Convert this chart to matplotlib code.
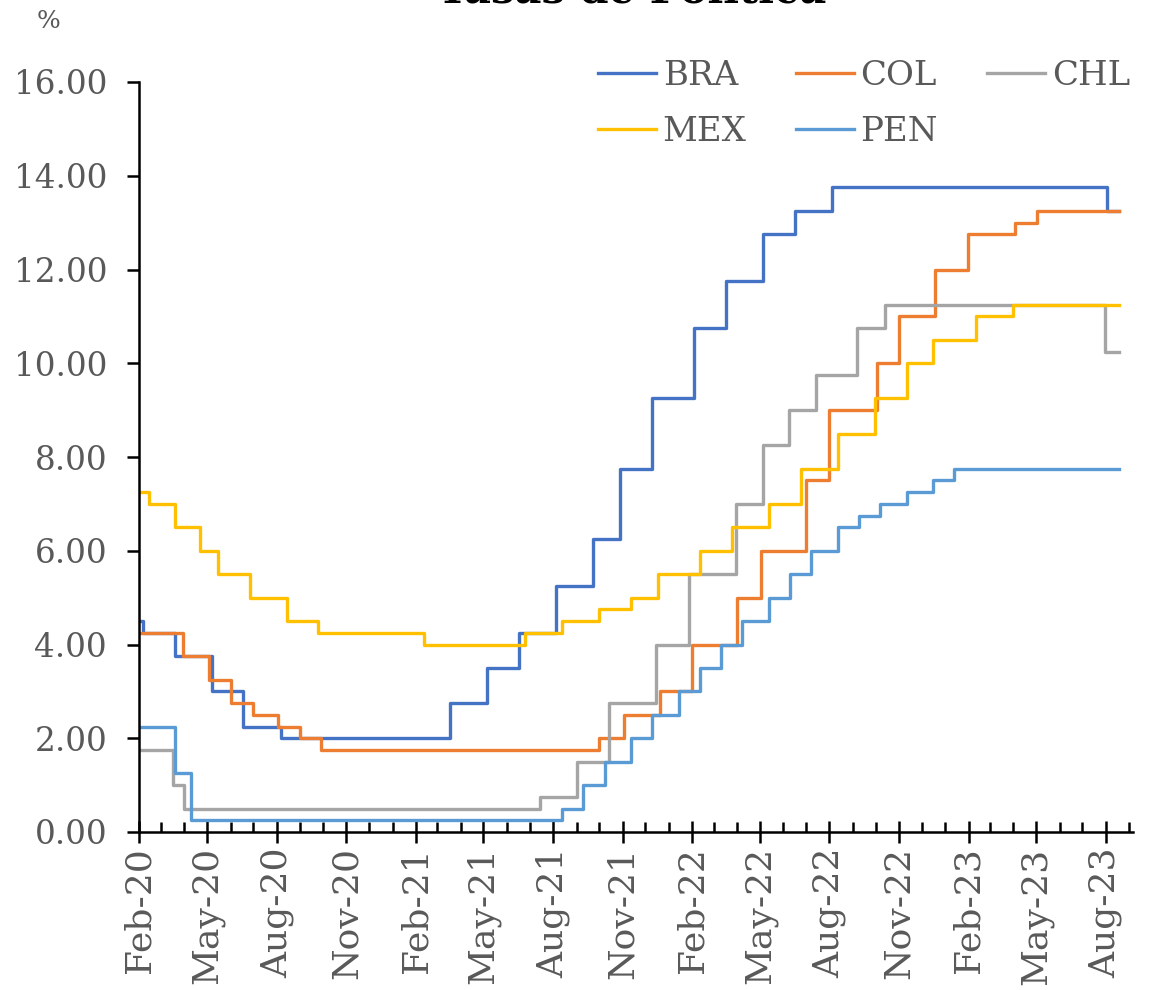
import pandas as pd
import matplotlib
matplotlib.use("Agg")
import matplotlib.pyplot as plt
import matplotlib.dates as mdates

# Tasas de política monetaria (%), fechas de cambio
bra_fechas = ["2020-02-03", "2020-02-06", "2020-03-19", "2020-05-07", "2020-06-18",
              "2020-08-06", "2021-03-18", "2021-05-06", "2021-06-17", "2021-08-05",
              "2021-09-23", "2021-10-28", "2021-12-09", "2022-02-03", "2022-03-17",
              "2022-05-05", "2022-06-16", "2022-08-04", "2023-08-03", "2023-08-18"]
bra_tasas = [4.50, 4.25, 3.75, 3.00, 2.25, 2.00, 2.75, 3.50, 4.25, 5.25, 6.25, 7.75,
             9.25, 10.75, 11.75, 12.75, 13.25, 13.75, 13.25, 13.25]

col_fechas = ["2020-02-03", "2020-03-30", "2020-05-04", "2020-06-01", "2020-06-30",
              "2020-08-03", "2020-09-01", "2020-09-29", "2021-10-01", "2021-11-02",
              "2021-12-20", "2022-02-01", "2022-04-01", "2022-05-02", "2022-07-01",
              "2022-08-01", "2022-10-03", "2022-11-01", "2022-12-19", "2023-01-31",
              "2023-04-03", "2023-05-02", "2023-08-18"]
col_tasas = [4.25, 3.75, 3.25, 2.75, 2.50, 2.25, 2.00, 1.75, 2.00, 2.50, 3.00, 4.00,
             5.00, 6.00, 7.50, 9.00, 10.00, 11.00, 12.00, 12.75, 13.00, 13.25, 13.25]

chl_fechas = ["2020-02-03", "2020-03-17", "2020-04-01", "2021-07-15", "2021-09-01",
              "2021-10-14", "2021-12-15", "2022-01-27", "2022-03-30", "2022-05-05",
              "2022-06-08", "2022-07-14", "2022-09-07", "2022-10-13", "2023-07-31",
              "2023-08-18"]
chl_tasas = [1.75, 1.00, 0.50, 0.75, 1.50, 2.75, 4.00, 5.50, 7.00, 8.25, 9.00, 9.75,
             10.75, 11.25, 10.25, 10.25]

mex_fechas = ["2020-02-03", "2020-02-14", "2020-03-20", "2020-04-21", "2020-05-15",
              "2020-06-26", "2020-08-14", "2020-09-25", "2021-02-12", "2021-06-25",
              "2021-08-13", "2021-10-01", "2021-11-12", "2021-12-17", "2022-02-11",
              "2022-03-25", "2022-05-13", "2022-06-24", "2022-08-12", "2022-09-30",
              "2022-11-11", "2022-12-16", "2023-02-10", "2023-03-31", "2023-08-18"]
mex_tasas = [7.25, 7.00, 6.50, 6.00, 5.50, 5.00, 4.50, 4.25, 4.00, 4.25, 4.50, 4.75,
             5.00, 5.50, 6.00, 6.50, 7.00, 7.75, 8.50, 9.25, 10.00, 10.50, 11.00,
             11.25, 11.25]

pen_fechas = ["2020-02-03", "2020-03-20", "2020-04-10", "2021-08-13", "2021-09-10",
              "2021-10-08", "2021-11-12", "2021-12-10", "2022-01-14", "2022-02-11",
              "2022-03-11", "2022-04-08", "2022-05-13", "2022-06-10", "2022-07-08",
              "2022-08-12", "2022-09-09", "2022-10-07", "2022-11-11", "2022-12-16",
              "2023-01-13", "2023-08-18"]
pen_tasas = [2.25, 1.25, 0.25, 0.50, 1.00, 1.50, 2.00, 2.50, 3.00, 3.50, 4.00, 4.50,
             5.00, 5.50, 6.00, 6.50, 6.75, 7.00, 7.25, 7.50, 7.75, 7.75]

series = [
    ("BRA", bra_fechas, bra_tasas, "#4472C4"),
    ("COL", col_fechas, col_tasas, "#ED7D31"),
    ("CHL", chl_fechas, chl_tasas, "#A5A5A5"),
    ("MEX", mex_fechas, mex_tasas, "#FFC000"),
    ("PEN", pen_fechas, pen_tasas, "#5B9BD5"),
]

gris = "#595959"
plt.rcParams["font.family"] = ["DejaVu Serif"]

fig = plt.figure(figsize=(11.58, 9.9), dpi=100)
ax = fig.add_axes([139 / 1158, 1 - 832 / 990, (1133 - 139) / 1158, 750 / 990])

lineas = {}
for nombre, fechas, tasas, color in series:
    l, = ax.step(pd.to_datetime(fechas), tasas, where="post", color=color,
                 lw=2.4, label=nombre)
    lineas[nombre] = l

ax.set_ylim(0, 16)
ax.set_yticks(range(0, 17, 2))
ax.yaxis.set_major_formatter(matplotlib.ticker.FormatStrFormatter("%.2f"))
ax.set_xlim(pd.Timestamp("2020-02-01"), pd.Timestamp("2023-09-06"))
ax.xaxis.set_major_locator(mdates.MonthLocator(bymonth=[2, 5, 8, 11]))
ax.xaxis.set_minor_locator(mdates.MonthLocator())
ax.xaxis.set_major_formatter(mdates.DateFormatter("%b-%y"))

for s in ["top", "right"]:
    ax.spines[s].set_visible(False)
for s in ["left", "bottom"]:
    ax.spines[s].set_linewidth(1.8)

ax.tick_params(axis="y", direction="out", length=9, width=1.8, labelsize=23.5,
               labelcolor=gris, pad=14)
ax.tick_params(axis="x", which="major", direction="inout", length=16, width=1.8,
               labelsize=26, labelcolor=gris, labelrotation=90, pad=3)
ax.tick_params(axis="x", which="minor", direction="in", length=7, width=1.8)

orden = ["BRA", "MEX", "COL", "PEN", "CHL"]
leg = fig.legend([lineas[n] for n in orden], orden, loc="center left",
                 bbox_to_anchor=(598 / 1158, 1 - 104 / 990), ncol=3, frameon=False,
                 fontsize=24.5, handlelength=1.7, handletextpad=0.2, columnspacing=1.45,
                 labelspacing=0.7, borderpad=0, borderaxespad=0)
for t in leg.get_texts():
    t.set_color(gris)

fig.text(48 / 1158, 1 - 22 / 990, "%", fontsize=18, color=gris, ha="center",
         va="center")
fig.text(632 / 1158, 1 - 4 / 990, "Tasas de Política", fontsize=30,
         fontweight="bold", ha="center", va="baseline")

fig.savefig("out.png", dpi=100)
